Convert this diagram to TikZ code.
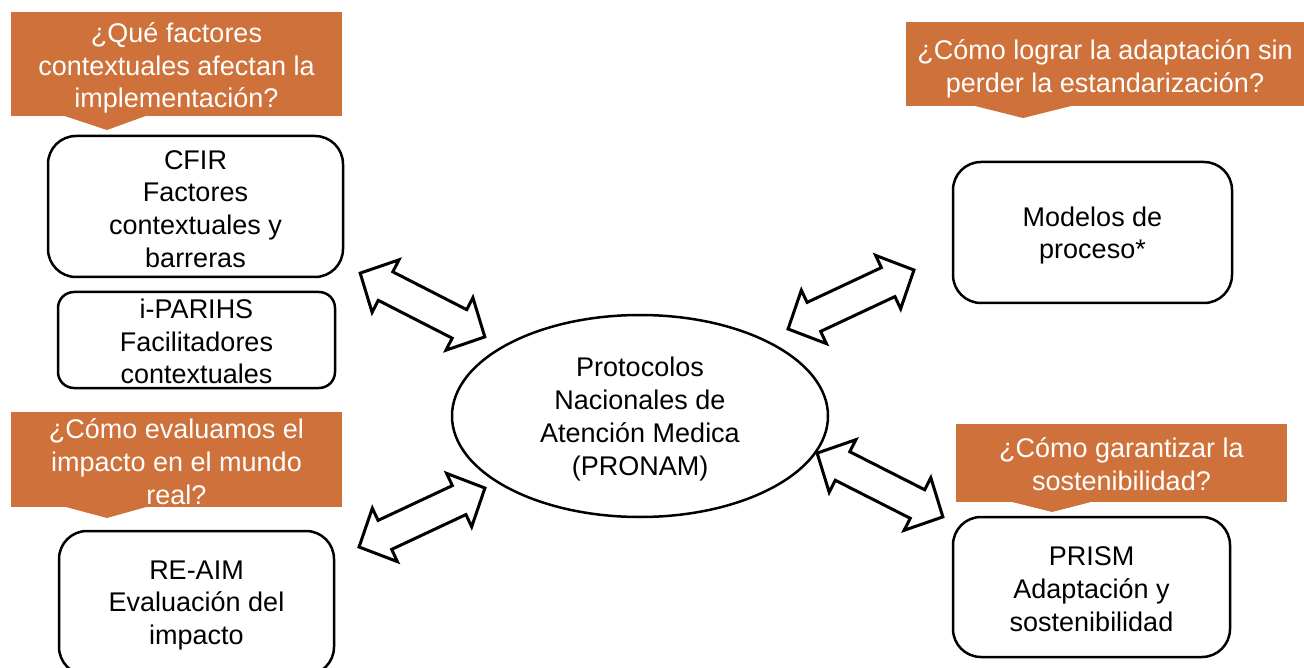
\documentclass[tikz,border=0pt]{standalone}
\usepackage{fontspec}
\setmainfont{Liberation Sans}
\usetikzlibrary{shapes.geometric,shapes.arrows}
\definecolor{calloutorange}{RGB}{207,113,58}
\tikzset{
  txt/.style={align=center,font=\fontsize{27}{32.8}\selectfont,text=black,inner sep=0pt},
  wtxt/.style={txt,text=white},
  callout/.style={fill=calloutorange,inner sep=0pt},
  box/.style={draw=black,line width=2.5pt,inner sep=0pt},
  blockarrow/.style={double arrow,draw=black,line width=3pt,fill=white,
    inner xsep=0pt,inner ysep=14.5pt,double arrow head extend=13.5pt,
    double arrow tip angle=92},
}
\begin{document}
\begin{tikzpicture}[x=1pt,y=-1pt]
\useasboundingbox (0,0) rectangle (1304,668);
% callouts
\node[callout,minimum width=331pt,minimum height=104pt] (q1) at (176.5,64) {};
\fill[calloutorange] (63,115.5) -- (107,130) -- (147,115.5) -- cycle;
\node[wtxt] (q1t) at ([yshift=-4pt]q1.center) {¿Qué factores\\contextuales afectan la\\implementación?};
\node[callout,minimum width=398pt,minimum height=84pt] (q2) at (1105,64) {};
\fill[calloutorange] (973,105.5) -- (1023,118) -- (1073,105.5) -- cycle;
\node[wtxt] (q2t) at ([yshift=-4.5pt]q2.center) {¿Cómo lograr la adaptación sin\\perder la estandarización?};
\node[callout,minimum width=331pt,minimum height=95pt] (q3) at (176.5,459.5) {};
\fill[calloutorange] (64,506.5) -- (107,518) -- (148,506.5) -- cycle;
\node[wtxt] (q3t) at ([yshift=-2pt]q3.center) {¿Cómo evaluamos el\\impacto en el mundo\\real?};
\node[callout,minimum width=331pt,minimum height=78pt] (q4) at (1121.5,463) {};
\fill[calloutorange] (1010,501.5) -- (1052,512) -- (1093,501.5) -- cycle;
\node[wtxt] (q4t) at ([yshift=-1pt]q4.center) {¿Cómo garantizar la\\sostenibilidad?};
% boxes
\node[box,rounded corners=28pt,minimum width=295pt,minimum height=141pt] (cfir) at (195.5,206.5) {};
\node[txt] (cfirt) at ([yshift=-2.5pt]cfir.center) {CFIR\\Factores\\contextuales y\\barreras};
\node[box,rounded corners=16pt,minimum width=277pt,minimum height=96pt] (ipar) at (196.5,340) {};
\node[txt] (ipart) at ([yshift=-1.5pt]ipar.center) {i-PARIHS\\Facilitadores\\contextuales};
\node[box,rounded corners=28pt,minimum width=279pt,minimum height=141pt] (proc) at (1092.5,232.5) {};
\node[txt] (proct) at ([yshift=-3pt]proc.center) {Modelos de\\proceso*};
\node[box,rounded corners=28pt,minimum width=277pt,minimum height=140pt] (prism) at (1091.5,587) {};
\node[txt] (prismt) at ([yshift=-2.5pt]prism.center) {PRISM\\Adaptación y\\sostenibilidad};
\begin{scope}
\clip (0,0) rectangle (1304,668);
\node[box,rounded corners=28pt,minimum width=275pt,minimum height=144pt] (reaim) at (196.5,603) {};
\end{scope}
\node[txt] (reaimt) at ([yshift=-2.5pt]reaim.center) {RE-AIM\\Evaluación del\\impacto};
% centre
\node[draw=black,line width=2.5pt,ellipse,minimum width=376pt,minimum height=202pt,inner sep=0pt] (pronam) at (640,416) {};
\node[txt] (pronamt) at ([yshift=-3pt]pronam.center) {Protocolos\\Nacionales de\\Atención Medica\\(PRONAM)};
% block arrows
\node[blockarrow,minimum height=140pt,rotate=-27.1] (a1) at (422.5,305) {};
\node[blockarrow,minimum height=139pt,rotate=25.1] (a2) at (851,299.5) {};
\node[blockarrow,minimum height=139pt,rotate=25.1] (a3) at (422,517.5) {};
\node[blockarrow,minimum height=141pt,rotate=-26.9] (a4) at (880,485) {};
\end{tikzpicture}
\end{document}
